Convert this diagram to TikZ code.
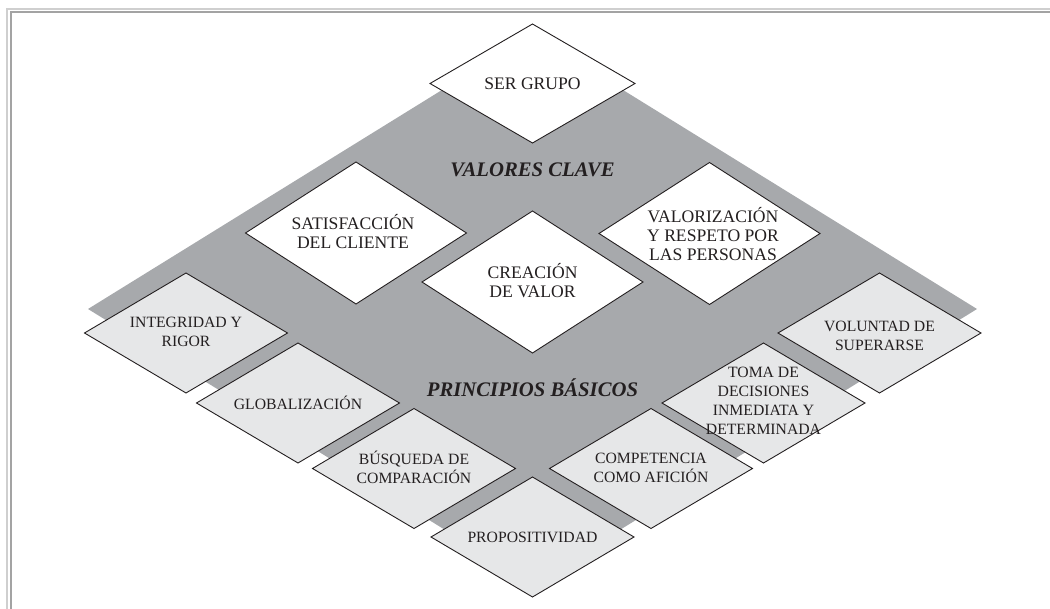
\documentclass[tikz,border=0pt]{standalone}
\usepackage{fontspec}
\setmainfont{Liberation Serif}
\usetikzlibrary{shapes.geometric}
\definecolor{bandgray}{HTML}{A7A9AC}
\definecolor{tilegray}{HTML}{E6E7E8}
\definecolor{inkgray}{HTML}{231F20}
\definecolor{frameouter}{HTML}{CFCFCF}
\definecolor{frameinner}{HTML}{A3A3A3}
\begin{document}
\begin{tikzpicture}[x=1pt,y=-1pt,
  tile/.style={diamond, draw=inkgray, line width=0.9pt, inner sep=0pt, outer sep=0pt},
  valuetile/.style={tile, fill=white, minimum width=221pt, minimum height=142pt},
  principletile/.style={tile, fill=tilegray, minimum width=203pt, minimum height=120pt},
  bigtext/.style={text=inkgray, inner sep=0pt, font=\fontsize{17.6}{19}\selectfont, align=center},
  smalltext/.style={text=inkgray, inner sep=0pt, font=\fontsize{15.7}{19}\selectfont, align=center},
  heading/.style={text=inkgray, inner sep=0pt, font=\fontsize{20.7}{24}\selectfont\bfseries\itshape}
]
\useasboundingbox (0,0) rectangle (1050,609);

% page frame (top and left rules)
\draw[frameouter, line width=1.3pt] (7,609) -- (7,9) -- (1050,9);
\draw[frameinner, line width=2pt] (11,609) -- (11,12.5) -- (1050,12.5);

% grey backdrop band
\node[diamond, fill=bandgray, inner sep=0pt, outer sep=0pt,
      minimum width=889pt, minimum height=550pt] (band) at (532.5,309) {};

% key values
\node[tile, fill=white, minimum width=205pt, minimum height=119pt] (ser) at (532.5,83.5) {};
\node[valuetile] (sat) at (356,233) {};
\node[valuetile] (valp) at (709.5,233.5) {};
\node[valuetile] (crea) at (532.5,282) {};

% basic principles
\node[principletile] (integ) at (186,333) {};
\node[principletile] (glob) at (298,403) {};
\node[principletile] (busq) at (414,468.5) {};
\node[principletile] (prop) at (532.5,537) {};
\node[principletile] (comp) at (651,468.5) {};
\node[principletile] (toma) at (763.5,403) {};
\node[principletile] (volu) at (879.5,333) {};

% labels
\node[bigtext] (serT) at (ser.center) {SER GRUPO};
\node[bigtext] (satT) at ([xshift=-3pt,yshift=1.5pt]sat.center) {SATISFACCIÓN\\DEL CLIENTE};
\node[bigtext] (valpT) at ([xshift=3.5pt,yshift=-0.5pt]valp.center) {VALORIZACIÓN\\Y RESPETO POR\\LAS PERSONAS};
\node[bigtext] (creaT) at ([yshift=1.5pt]crea.center) {CREACIÓN\\DE VALOR};

\node[smalltext] (integT) at ([yshift=1.5pt]integ.center) {INTEGRIDAD Y\\RIGOR};
\node[smalltext] (globT) at (glob.center) {GLOBALIZACIÓN};
\node[smalltext] (busqT) at ([yshift=1pt]busq.center) {BÚSQUEDA DE\\COMPARACIÓN};
\node[smalltext] (propT) at (prop.center) {PROPOSITIVIDAD};
\node[smalltext] (compT) at ([yshift=1pt]comp.center) {COMPETENCIA\\COMO AFICIÓN};
\node[smalltext] (tomaT) at ([yshift=2.5pt]toma.center) {TOMA DE\\DECISIONES\\INMEDIATA Y\\DETERMINADA};
\node[smalltext] (voluT) at ([yshift=-3pt]volu.center) {VOLUNTAD DE\\SUPERARSE};

\node[heading] (valores) at (532.5,170) {VALORES CLAVE};
\node[heading] (principios) at (532.5,388) {PRINCIPIOS BÁSICOS};
\end{tikzpicture}
\end{document}
